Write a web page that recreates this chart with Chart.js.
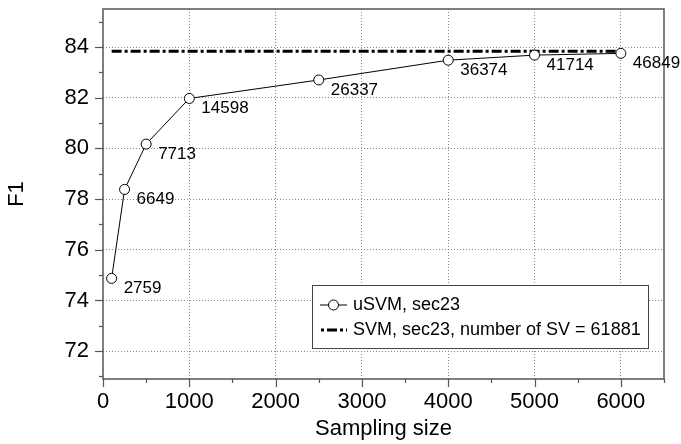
<!DOCTYPE html>
<html>
<head>
<meta charset="utf-8">
<script src="https://cdn.jsdelivr.net/npm/chart.js@4/dist/chart.umd.min.js"></script>
<style>
  html, body { margin: 0; padding: 0; background: #fff; }
  #wrap { width: 681px; height: 444px; }
</style>
</head>
<body>
<div id="wrap"><canvas id="chart" width="681" height="444"></canvas></div>
<script>
// data
const sampleSizes = [100, 250, 500, 1000, 2500, 4000, 5000, 6000];
const usvmF1 = [74.87, 78.38, 80.17, 81.97, 82.70, 83.48, 83.68, 83.75];
const svCounts = [2759, 6649, 7713, 14598, 26337, 36374, 41714, 46849];
const svmF1 = 83.83;
const svmSpan = [100, 6000];
const xTicks = [0, 500, 1000, 1500, 2000, 2500, 3000, 3500, 4000, 4500, 5000, 5500, 6000, 6500];
const yTicks = [71, 72, 73, 74, 75, 76, 77, 78, 79, 80, 81, 82, 83, 84, 85];
const seriesNames = ['uSVM, sec23', 'SVM, sec23, number of SV = 61881'];

const FONT = "Helvetica, 'Liberation Sans', Arial, sans-serif";
const DASH_DOT = [10, 3, 3, 3];

const isMajorX = v => v % 1000 === 0;
const isMajorY = v => v % 2 === 0;

// frame, tick marks, point labels and the boxed legend
const decorations = {
    id: 'decorations',
    afterDraw(chart) {
        const { ctx, chartArea: a } = chart;
        const xs = chart.scales.x, ys = chart.scales.y;
        ctx.save();

        // frame
        ctx.strokeStyle = '#555';
        ctx.lineWidth = 1.5;
        ctx.strokeRect(a.left, a.top, a.right - a.left, a.bottom - a.top);

        // tick marks (outside)
        ctx.lineWidth = 1.2;
        xTicks.forEach(v => {
            const px = Math.round(xs.getPixelForValue(v)) + 0.5;
            const len = isMajorX(v) ? 8 : 4;
            ctx.beginPath();
            ctx.moveTo(px, a.bottom);
            ctx.lineTo(px, a.bottom + len);
            ctx.stroke();
        });
        yTicks.forEach(v => {
            const py = Math.round(ys.getPixelForValue(v)) + 0.5;
            const len = isMajorY(v) ? 8 : 4;
            ctx.beginPath();
            ctx.moveTo(a.left - len, py);
            ctx.lineTo(a.left, py);
            ctx.stroke();
        });

        // support vector counts next to each point
        ctx.fillStyle = '#000';
        ctx.font = '17px ' + FONT;
        ctx.textAlign = 'left';
        ctx.textBaseline = 'middle';
        const meta = chart.getDatasetMeta(0);
        meta.data.forEach((pt, i) => {
            ctx.fillText(String(svCounts[i]), pt.x + 12, pt.y + 10);
        });

        // legend box
        const right = a.right - 16, bottom = a.bottom - 31;
        const w = 336, h = 63;
        const left = right - w, top = bottom - h;
        ctx.fillStyle = '#fff';
        ctx.fillRect(left, top, w, h);
        ctx.strokeStyle = '#444';
        ctx.lineWidth = 1;
        ctx.strokeRect(left + 0.5, top + 0.5, w, h);

        const row1 = top + 20, row2 = top + 45;
        const sx0 = left + 8, sx1 = left + 35;

        ctx.strokeStyle = '#000';
        ctx.lineWidth = 1;
        ctx.beginPath();
        ctx.moveTo(sx0, row1);
        ctx.lineTo(sx1, row1);
        ctx.stroke();
        ctx.beginPath();
        ctx.arc((sx0 + sx1) / 2, row1, 5, 0, Math.PI * 2);
        ctx.fillStyle = '#fff';
        ctx.fill();
        ctx.stroke();

        ctx.lineWidth = 3;
        ctx.setLineDash([3, 3, 10, 3]);
        ctx.beginPath();
        ctx.moveTo(sx0 + 1, row2);
        ctx.lineTo(sx1, row2);
        ctx.stroke();
        ctx.setLineDash([]);

        ctx.fillStyle = '#000';
        ctx.font = '18px ' + FONT;
        ctx.fillText(seriesNames[0], left + 41, row1);
        ctx.fillText(seriesNames[1], left + 41, row2);

        ctx.restore();
    }
};

new Chart(document.getElementById('chart'), {
    type: 'line',
    data: {
        datasets: [
            {
                label: seriesNames[0],
                data: sampleSizes.map((s, i) => ({ x: s, y: usvmF1[i] })),
                borderColor: '#000',
                borderWidth: 1,
                pointRadius: 5,
                pointBackgroundColor: '#fff',
                pointBorderColor: '#000',
                pointBorderWidth: 1,
                tension: 0
            },
            {
                label: seriesNames[1],
                data: svmSpan.map(s => ({ x: s, y: svmF1 })),
                borderColor: '#000',
                borderWidth: 3,
                borderDash: DASH_DOT,
                pointRadius: 0,
                tension: 0
            }
        ]
    },
    options: {
        responsive: false,
        animation: false,
        devicePixelRatio: 1,
        layout: { padding: { left: 0, right: 17, top: 9, bottom: 0 } },
        plugins: {
            legend: { display: false },
            tooltip: { enabled: false }
        },
        scales: {
            x: {
                type: 'linear',
                min: 0,
                max: 6500,
                afterBuildTicks: s => { s.ticks = xTicks.map(v => ({ value: v })); },
                afterFit: s => { s.height = 65; s.paddingLeft = 0; s.paddingRight = 0; },
                ticks: {
                    autoSkip: false,
                    maxRotation: 0,
                    color: '#000',
                    padding: 10,
                    font: { family: FONT, size: 22 },
                    callback: v => isMajorX(v) ? String(v) : ''
                },
                grid: {
                    drawTicks: false,
                    lineWidth: 1,
                    color: c => (c.tick && isMajorX(c.tick.value) && c.tick.value > 0) ? '#8a8a8a' : 'rgba(0,0,0,0)'
                },
                border: { display: false, dash: [1, 2] },
                title: {
                    display: true,
                    text: 'Sampling size',
                    color: '#000',
                    font: { family: FONT, size: 22 },
                    padding: { top: 0, bottom: 2 }
                }
            },
            y: {
                min: 70.9,
                max: 85.5,
                afterBuildTicks: s => { s.ticks = yTicks.map(v => ({ value: v })); },
                afterFit: s => { s.width = 103; s.paddingTop = 0; s.paddingBottom = 0; },
                ticks: {
                    autoSkip: false,
                    color: '#000',
                    padding: 14,
                    font: { family: FONT, size: 22 },
                    callback: v => isMajorY(v) ? String(v) : ''
                },
                grid: {
                    drawTicks: false,
                    lineWidth: 1,
                    color: c => (c.tick && isMajorY(c.tick.value)) ? '#8a8a8a' : 'rgba(0,0,0,0)'
                },
                border: { display: false, dash: [1, 2] },
                title: {
                    display: true,
                    text: 'F1',
                    color: '#000',
                    font: { family: FONT, size: 22 },
                    padding: { top: 4, bottom: 0 }
                }
            }
        }
    },
    plugins: [decorations]
});
</script>
</body>
</html>
